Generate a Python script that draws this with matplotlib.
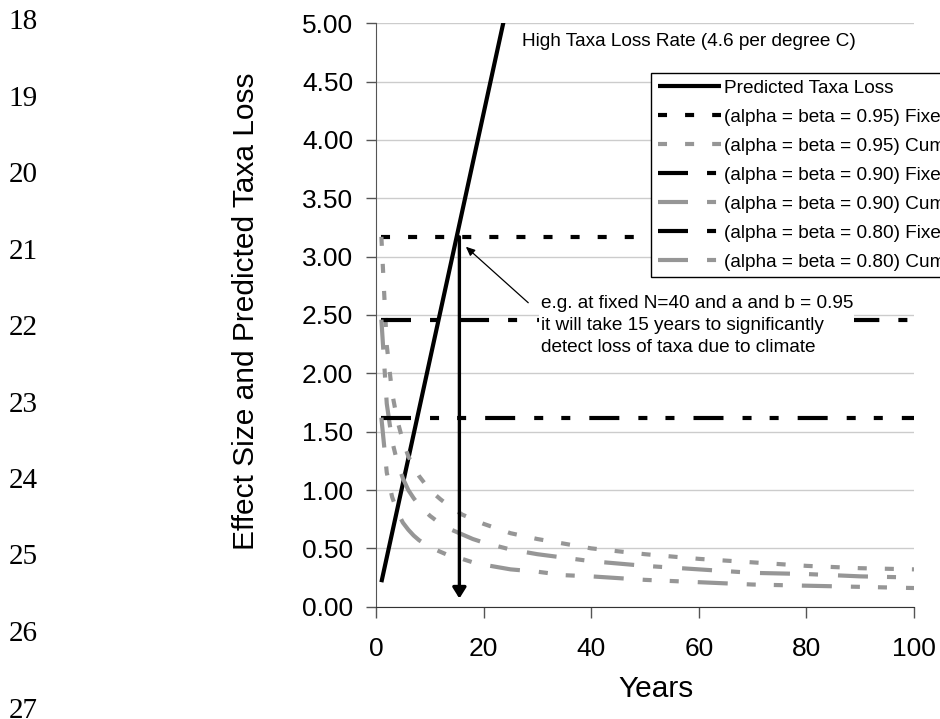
# effect_size_plot.py - effect size vs predicted taxa loss over years

import matplotlib
import matplotlib.pyplot as plt

matplotlib.use("Agg")

plt.rcParams["font.family"] = ["Liberation Sans", "DejaVu Sans"]
plt.rcParams["lines.scale_dashes"] = False  # dash lengths in points

# ── 1. Data ───────────────────────────────────────────────────────────────────

# predicted taxa loss (straight line, runs off the top of the plot)
pred_years = [1, 100]
pred_loss = [0.21, 21.15]

# fixed N effect sizes (flat lines)
fixed_years = [1, 100]
fixed_95 = [3.17, 3.17]
fixed_90 = [2.46, 2.46]
fixed_80 = [1.62, 1.62]

# cumulative N effect sizes
cum_years = [1, 2, 3, 4, 5, 6, 7, 8, 10, 12, 14, 16, 18, 20,
             25, 30, 35, 40, 50, 60, 70, 80, 90, 100]
cum_95 = [3.17, 2.24, 1.83, 1.59, 1.42, 1.29, 1.20, 1.12, 1.00, 0.92, 0.85, 0.79,
          0.75, 0.71, 0.63, 0.58, 0.54, 0.50, 0.45, 0.41, 0.38, 0.35, 0.33, 0.32]
cum_90 = [2.46, 1.74, 1.42, 1.23, 1.10, 1.00, 0.93, 0.87, 0.78, 0.71, 0.66, 0.62,
          0.58, 0.55, 0.49, 0.45, 0.42, 0.39, 0.35, 0.32, 0.29, 0.28, 0.26, 0.25]
cum_80 = [1.62, 1.15, 0.94, 0.81, 0.72, 0.66, 0.61, 0.57, 0.51, 0.47, 0.43, 0.41,
          0.38, 0.36, 0.32, 0.30, 0.27, 0.26, 0.23, 0.21, 0.19, 0.18, 0.17, 0.16]

x_ticks = [0, 20, 40, 60, 80, 100]
y_ticks = [0.0, 0.5, 1.0, 1.5, 2.0, 2.5, 3.0, 3.5, 4.0, 4.5, 5.0]

detect_year = 15.5  # where the 0.95 fixed line meets the predicted loss

line_numbers = [18, 19, 20, 21, 22, 23, 24, 25, 26, 27]

# ── 2. Figure and axes ────────────────────────────────────────────────────────

W, H = 940, 719
fig = plt.figure(figsize=(W / 100, H / 100), dpi=100)
ax = fig.add_axes([376 / W, 1 - 606.7 / H, 538 / W, 583.4 / H])

GRAY = "#969696"
dot = (0, (6.5, 13))
dash_dot = (0, (21.6, 13.7, 6.5, 14.4))
dash_dot_dot = (0, (21.6, 13.7, 6.5, 13, 6.5, 13.7))

ax.plot(pred_years, pred_loss, color="black", lw=3, solid_capstyle="butt",
        label="Predicted Taxa Loss")
ax.plot(fixed_years, fixed_95, color="black", lw=3, ls=dot,
        label="(alpha = beta = 0.95) Fixed N=40")
ax.plot(cum_years, cum_95, color=GRAY, lw=3, ls=dot,
        label="(alpha = beta = 0.95) Cumulative N")
ax.plot(fixed_years, fixed_90, color="black", lw=3, ls=dash_dot,
        label="(alpha = beta = 0.90) Fixed N=40")
ax.plot(cum_years, cum_90, color=GRAY, lw=3, ls=dash_dot,
        label="(alpha = beta = 0.90) Cumulative N")
ax.plot(fixed_years, fixed_80, color="black", lw=3, ls=dash_dot_dot,
        label="(alpha = beta = 0.80) Fixed N=40")
ax.plot(cum_years, cum_80, color=GRAY, lw=3, ls=dash_dot_dot,
        label="(alpha = beta = 0.80) Cumulative N")

# ── 3. Axes styling ───────────────────────────────────────────────────────────

ax.set_xlim(0, 100)
ax.set_ylim(0, 5)
ax.set_xticks(x_ticks)
ax.set_yticks(y_ticks)
ax.yaxis.set_major_formatter(plt.FuncFormatter(lambda v, _: f"{v:.2f}"))
ax.tick_params(axis="y", direction="out", length=7, width=1, pad=9.5,
               labelsize=19, color="#555555")
ax.tick_params(axis="x", direction="out", length=8, width=1, pad=14,
               labelsize=19, color="#555555")

for side in ("top", "right"):
    ax.spines[side].set_visible(False)
ax.spines["left"].set_color("#555555")
ax.spines["bottom"].set_color("#333333")
ax.yaxis.grid(True, color="#cccccc", lw=1)
ax.set_axisbelow(True)

fig.text(246 / W, 1 - 311 / H, "Effect Size and Predicted Taxa Loss",
         rotation=90, ha="center", va="center", fontsize=21.5)
fig.text(656 / W, 1 - 689 / H, "Years", ha="center", va="center", fontsize=21.5)

# ── 4. Annotations ────────────────────────────────────────────────────────────

ax.text(27.1, 4.84, "High Taxa Loss Rate (4.6 per degree C)",
        ha="left", va="center", fontsize=13.7)

ax.text(30.6, 2.41,
        "e.g. at fixed N=40 and a and b = 0.95\n"
        "it will take 15 years to significantly\n"
        "detect loss of taxa due to climate",
        ha="left", va="center", fontsize=13.7, linespacing=1.36, zorder=5,
        bbox=dict(facecolor="white", edgecolor="none", pad=1))

ax.annotate("", xy=(detect_year, 0.07), xytext=(detect_year, fixed_95[0]),
            arrowprops=dict(arrowstyle="-|>,head_length=0.32,head_width=0.2",
                            mutation_scale=20, color="black", lw=2.4,
                            shrinkA=0, shrinkB=0), zorder=6)
ax.annotate("", xy=(16.7, 3.085), xytext=(28.3, 2.605),
            arrowprops=dict(arrowstyle="-|>,head_length=0.45,head_width=0.2",
                            mutation_scale=12, color="black", lw=0.9,
                            shrinkA=0, shrinkB=0), zorder=6)

# ── 5. Legend (runs off the right edge, as in the source) ─────────────────────

leg = ax.legend(loc="upper left", bbox_to_anchor=(651 / W, 1 - 73 / H),
                bbox_transform=fig.transFigure, borderaxespad=0,
                fontsize=13.7, handlelength=3.35, handletextpad=0.15,
                labelspacing=0.61, borderpad=0.35, fancybox=False,
                framealpha=1, edgecolor="black")
leg.get_frame().set_linewidth(1.0)
leg.set_zorder(7)

# ── 6. Line numbers down the left margin ──────────────────────────────────────

for i, n in enumerate(line_numbers):
    fig.text(23 / W, 1 - (22 + i * 76.5) / H, str(n), ha="center", va="center",
             fontsize=21, family="Liberation Serif")

fig.savefig("out.png", dpi=100)
